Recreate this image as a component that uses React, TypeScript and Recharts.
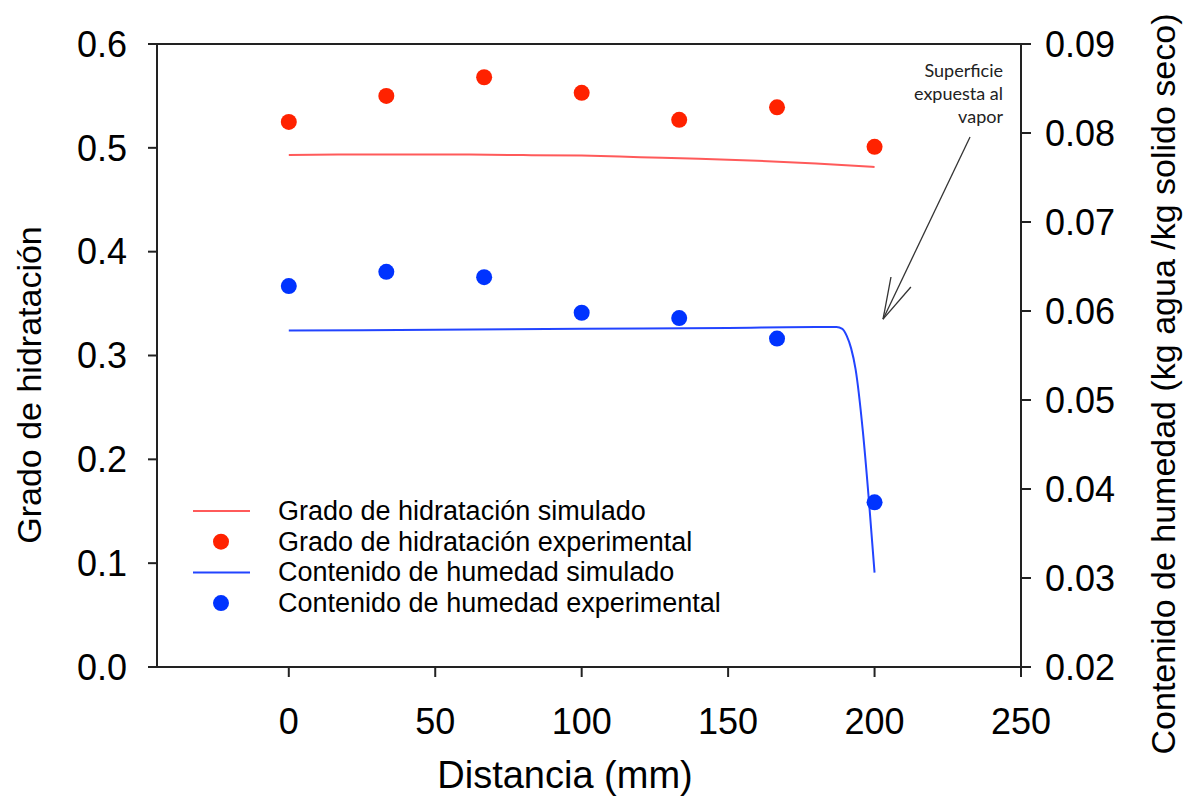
import React from 'react';
import { ComposedChart, Line, Scatter, XAxis, YAxis, ReferenceLine } from 'recharts';

const xTicks = [0, 50, 100, 150, 200, 250];
const leftTicks = [0, 0.1, 0.2, 0.3, 0.4, 0.5, 0.6];
const rightTicks = [0.02, 0.03, 0.04, 0.05, 0.06, 0.07, 0.08, 0.09];

const expDistance = [0, 33.3, 66.7, 100, 133.3, 166.7, 200];
const hydrationExp = [0.525, 0.55, 0.568, 0.553, 0.527, 0.539, 0.501];
const moistureExp = [0.0628, 0.0644, 0.0638, 0.0598, 0.0592, 0.0569, 0.0385];

const simHydrationX = [0, 20, 40, 60, 80, 100, 120, 140, 160, 180, 200];
const simHydrationY = [0.493, 0.4935, 0.4935, 0.4935, 0.493, 0.4925, 0.491, 0.4895, 0.4875, 0.485, 0.4815];

const simMoistureX = [0, 50, 100, 150, 180, 187, 189, 190.5, 192, 193.5, 196, 198, 200];
const simMoistureY = [0.0578, 0.0579, 0.058, 0.0581, 0.0582, 0.0582, 0.058, 0.0572, 0.0558, 0.0535, 0.0465, 0.039, 0.0306];

const legendLabels = [
  'Grado de hidratación simulado',
  'Grado de hidratación experimental',
  'Contenido de humedad simulado',
  'Contenido de humedad experimental',
];
const annotationLines = ['Superficie', 'expuesta al', 'vapor'];
// arrow in data coords (x, left y)
const arrowShaft = [{ x: 232.6, y: 0.5105 }, { x: 202.9, y: 0.335 }];
const arrowHeadA = [{ x: 205.6, y: 0.3756 }, { x: 202.9, y: 0.335 }];
const arrowHeadB = [{ x: 212.4, y: 0.366 }, { x: 202.9, y: 0.335 }];

const RED_DOT = '#ff2200';
const RED_LINE = '#ff5a5a';
const BLUE_DOT = '#0033ff';
const BLUE_LINE = '#2244ff';

const hydExpData = expDistance.map((x, i) => ({ x, y: hydrationExp[i] }));
const moistExpData = expDistance.map((x, i) => ({ x, y: moistureExp[i] }));
const hydSimData = simHydrationX.map((x, i) => ({ x, y: simHydrationY[i] }));
const moistSimData = simMoistureX.map((x, i) => ({ x, y: simMoistureY[i] }));

const FONT = '"Liberation Sans", Arial, sans-serif';

const LeftTitle = () => (
  <text x={29} y={385} transform="rotate(-90 29 385)" textAnchor="middle" dominantBaseline="central"
    fontFamily={FONT} fontSize={34} fill="#000">Grado de hidratación</text>
);
const RightTitle = () => (
  <text x={1163} y={384} transform="rotate(-90 1163 384)" textAnchor="middle" dominantBaseline="central"
    fontFamily={FONT} fontSize={34} fill="#000">Contenido de humedad (kg agua /kg solido seco)</text>
);
const XTitle = () => (
  <text x={565} y={788} textAnchor="middle" fontFamily={FONT} fontSize={38} fill="#000">Distancia (mm)</text>
);

const tickStyle = { fontFamily: FONT, fontSize: 36, fill: '#000' };
const axisStroke = '#222';

export default function App() {
  return (
    <div style={{ position: 'absolute', left: 0, top: 0, width: 1191, height: 805, background: '#fff' }}>
      <ComposedChart width={1191} height={805} margin={{ top: 44, left: 57, right: 70, bottom: 78 }}>
        <XAxis xAxisId="x" type="number" dataKey="x" domain={[-45, 250]} ticks={xTicks} allowDataOverflow
          height={60} tickSize={10} tickMargin={31} tick={tickStyle}
          axisLine={{ stroke: axisStroke, strokeWidth: 2 }} tickLine={{ stroke: axisStroke, strokeWidth: 2 }}
          label={<XTitle />} />
        <YAxis yAxisId="left" orientation="left" type="number" domain={[0, 0.6]} ticks={leftTicks} allowDataOverflow
          width={100} tickSize={9} tickMargin={21} tick={tickStyle} tickFormatter={(v: number) => v.toFixed(1)}
          axisLine={{ stroke: axisStroke, strokeWidth: 2 }} tickLine={{ stroke: axisStroke, strokeWidth: 2 }}
          label={<LeftTitle />} />
        <YAxis yAxisId="right" orientation="right" type="number" domain={[0.02, 0.09]} ticks={rightTicks} allowDataOverflow
          width={100} tickSize={10} tickMargin={14} tick={tickStyle} tickFormatter={(v: number) => v.toFixed(2)}
          axisLine={{ stroke: axisStroke, strokeWidth: 2 }} tickLine={{ stroke: axisStroke, strokeWidth: 2 }}
          label={<RightTitle />} />
        <ReferenceLine xAxisId="x" yAxisId="left" y={0.6} stroke={axisStroke} strokeWidth={2} ifOverflow="visible" />

        <Line xAxisId="x" yAxisId="left" data={hydSimData} dataKey="y" type="monotone" stroke={RED_LINE}
          strokeWidth={2} dot={false} isAnimationActive={false} />
        <Scatter xAxisId="x" yAxisId="left" data={hydExpData} dataKey="y" fill={RED_DOT} isAnimationActive={false}
          shape={(p: any) => <circle cx={p.cx} cy={p.cy} r={8} fill={RED_DOT} />} />
        <Line xAxisId="x" yAxisId="right" data={moistSimData} dataKey="y" type="monotone" stroke={BLUE_LINE}
          strokeWidth={2} dot={false} isAnimationActive={false} />
        <Scatter xAxisId="x" yAxisId="right" data={moistExpData} dataKey="y" fill={BLUE_DOT} isAnimationActive={false}
          shape={(p: any) => <circle cx={p.cx} cy={p.cy} r={8} fill={BLUE_DOT} />} />

        <ReferenceLine xAxisId="x" yAxisId="left" segment={arrowShaft} stroke="#333" strokeWidth={1.3} ifOverflow="visible" />
        <ReferenceLine xAxisId="x" yAxisId="left" segment={arrowHeadA} stroke="#333" strokeWidth={1.3} ifOverflow="visible" />
        <ReferenceLine xAxisId="x" yAxisId="left" segment={arrowHeadB} stroke="#333" strokeWidth={1.3} ifOverflow="visible" />
      </ComposedChart>

      <svg width={1191} height={805} style={{ position: 'absolute', left: 0, top: 0, pointerEvents: 'none' }}>
        {annotationLines.map((t, i) => (
          <text key={t} x={1003} y={77 + i * 23} textAnchor="end" fontFamily='Lato, "Open Sans", sans-serif'
            fontSize={18} fill="#222">{t}</text>
        ))}
        {legendLabels.map((t, i) => {
          const cy = 511 + i * 30.7;
          const isLine = i % 2 === 0;
          const color = i < 2 ? (isLine ? RED_LINE : RED_DOT) : (isLine ? BLUE_LINE : BLUE_DOT);
          return (
            <g key={t}>
              {isLine ? (
                <line x1={193} x2={250} y1={cy} y2={cy} stroke={color} strokeWidth={2} />
              ) : (
                <circle cx={221} cy={cy} r={8} fill={color} />
              )}
              <text x={278} y={cy} dominantBaseline="central" fontFamily={FONT} fontSize={27} fill="#000">{t}</text>
            </g>
          );
        })}
      </svg>
    </div>
  );
}
